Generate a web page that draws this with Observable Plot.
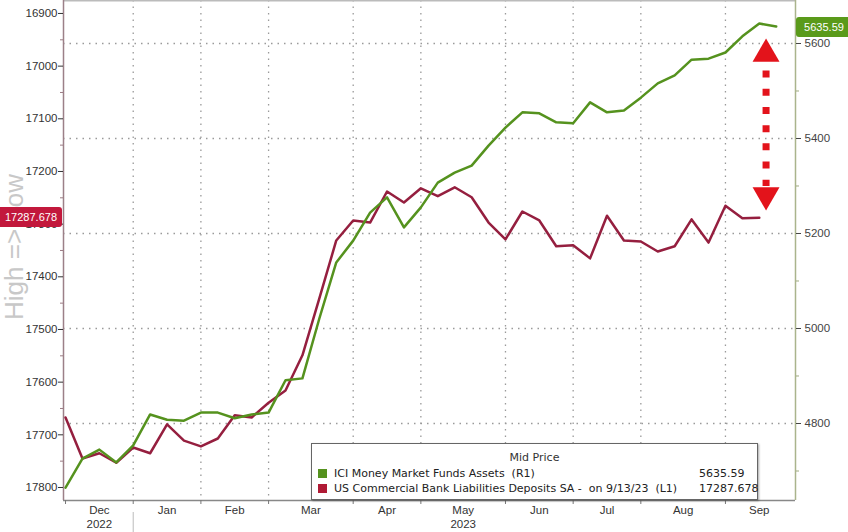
<!DOCTYPE html>
<html><head><meta charset="utf-8">
<script src="https://cdn.jsdelivr.net/npm/d3@7"></script>
<script src="https://cdn.jsdelivr.net/npm/@observablehq/plot@0.6"></script>
<style>
body{margin:0;background:#fff;font-family:"Liberation Sans",Arial,sans-serif;}
#wrap{position:relative;width:848px;height:532px;overflow:hidden;background:#fff;}
.flag{position:absolute;color:#fff;font-size:11px;height:20px;line-height:20px;text-align:center;white-space:nowrap;}
#legend{position:absolute;left:311px;top:443px;width:447px;height:57px;border:1.5px solid #666;background:#fff;box-sizing:border-box;font-family:"DejaVu Sans",sans-serif;font-size:11px;color:#222;box-shadow:1px 1px 2px rgba(0,0,0,0.35);}
#legend .title{position:absolute;left:0;right:0;top:7px;text-align:center;color:#333;}
#legend .row{position:absolute;left:6px;height:14px;line-height:14px;white-space:pre;}
#legend .sw{display:inline-block;width:9px;height:9px;margin-right:7px;vertical-align:-1px;}
#legend .val{position:absolute;left:387px;height:14px;line-height:14px;white-space:nowrap;}
#hl{position:absolute;left:14px;top:247px;transform:translate(-50%,-50%) rotate(-90deg);font-size:26px;color:#c8c8c8;white-space:nowrap;}
</style></head><body><div id="wrap"></div>
<script>
// ---- data ----
const monthLabels = ["Dec","Jan","Feb","Mar","Apr","May","Jun","Jul","Aug","Sep"];
const yearLabels  = ["2022","","","","","2023","","","",""];
const monthStarts = [0,4,8,12,17,21,26,30,34,39];   // week index of first obs in each month
const leftTicks  = [16900,17000,17100,17200,17300,17400,17500,17600,17700,17800];
const rightTicks = [4800,5000,5200,5400,5600];
const seriesNames = ["ICI Money Market Funds Assets  (R1)", "US Commercial Bank Liabilities Deposits SA -  on 9/13/23  (L1)"];
const lastValues = ["5635.59", "17287.678"];
// ICI Money Market Funds Assets (R1, $bn), weekly
const greenValues = [4665,4726,4745,4718,4754,4819,4808,4806,4823,4823,4811,4819,4823,4891,4895,
  5021,5139,5185,5244,5276,5213,5255,5307,5328,5343,5385,5423,5455,5453,5434,5432,5476,5455,5459,
  5486,5516,5533,5566,5568,5581,5615,5642,5635.59];
// US Commercial Bank Deposits SA (L1, $bn, inverted axis), weekly
const redValues = [17667,17745,17735,17753,17724,17735,17680,17711,17722,17707,17663,17667,17639,17616,
  17549,17441,17331,17293,17297,17238,17259,17232,17247,17230,17249,17297,17329,17276,17293,17342,
  17340,17365,17284,17331,17333,17352,17342,17291,17335,17265,17289,17287.678];

// ---- scales ----
const xDomain = [-0.12, 43.14];
const yDomain = [4637.9, 5690.5];
// left (inverted) axis mapped into right-axis units
const toRight = d3.scaleLinear().domain([16900, 17800]).range([5663.2, 4665.3]);
const leftMinor = leftTicks.slice(0,-1).map(d => d + 50);
const rightMinor = [4700,4900,5100,5300,5500];
const arrowAnno = {x: 41.4, headTop: 5578, headBottom: 5281, dashTop: 5543, dashBottom: 5300};

const months = monthLabels.map((m,i) => ({
  m, year: yearLabels[i],
  c: (monthStarts[i] + (i + 1 < monthStarts.length ? monthStarts[i+1] : 43)) / 2
}));

const GREEN = "#55921e", RED = "#951f3f", ARROW = "#e3131b";
const gridStyle = {stroke: "#9a9a9a", strokeOpacity: 1, strokeWidth: 1.3, strokeDasharray: "1.5,5"};

const chart = Plot.plot({
  width: 848, height: 532,
  marginLeft: 63, marginRight: 53, marginTop: 0, marginBottom: 32,
  style: {fontFamily: "Liberation Sans, Arial, sans-serif", fontSize: "11.5px", color: "#333", background: "#fff"},
  x: {domain: xDomain, label: null},
  y: {domain: yDomain, label: null},
  marks: [
    Plot.gridY(rightTicks, gridStyle),
    Plot.gridX(monthStarts.slice(1), gridStyle),
    Plot.ruleY([yDomain[1]], {stroke: "#bbb", strokeWidth: 2}),
    Plot.ruleY([yDomain[0]], {stroke: "#888", strokeWidth: 1.5}),
    Plot.ruleX([xDomain[0]], {stroke: "#9c8088", strokeWidth: 1.5}),
    Plot.ruleX([xDomain[1]], {stroke: "#aab48c", strokeWidth: 1.5}),
    Plot.axisY({anchor: "left", ticks: leftTicks.map(toRight), tickSize: 5, tickPadding: 1,
      tickFormat: d => String(Math.round(toRight.invert(d))), label: null, color: "#333"}),
    Plot.axisY({anchor: "left", ticks: leftMinor.map(toRight), tickSize: 3, tickFormat: () => "", label: null, color: "#9c7c84"}),
    Plot.axisY({anchor: "right", ticks: rightTicks, tickSize: 5, tickPadding: 4,
      tickFormat: d3.format("d"), label: null, color: "#444"}),
    Plot.axisY({anchor: "right", ticks: rightMinor, tickSize: 3, tickFormat: () => "", label: null, color: "#a0aa80"}),
    Plot.axisX({anchor: "bottom", ticks: monthStarts, tickSize: 4, tickFormat: () => "", label: null, color: "#777"}),
    Plot.axisX({anchor: "bottom", ticks: [4], tickSize: 20, dy: 12, tickFormat: () => "", label: null, color: "#bbb"}),
    Plot.text(months, {x: "c", text: d => d.year ? d.m + "\n" + d.year : d.m,
      frameAnchor: "bottom", lineAnchor: "top", dy: 3, lineHeight: 1.25, fill: "#333"}),
    Plot.lineY(redValues, {y: d => toRight(d), stroke: RED, strokeWidth: 2.5}),
    Plot.lineY(greenValues, {stroke: GREEN, strokeWidth: 2.5}),
    Plot.link([arrowAnno], {x1: "x", x2: "x", y1: "dashTop", y2: "dashBottom", stroke: ARROW,
      strokeWidth: 7, strokeDasharray: "7,11.2", strokeLinecap: "butt"}),
    Plot.dot([arrowAnno], {x: "x", y: "headTop", symbol: "triangle", r: 10, fill: ARROW, stroke: "none"}),
    Plot.dot([arrowAnno], {x: "x", y: "headBottom", symbol: "triangle", r: 10, fill: ARROW, stroke: "none", rotate: 180})
  ]
});

const wrap = document.getElementById("wrap");
wrap.appendChild(chart);
const ys = chart.scale("y");

const hl = document.createElement("div");
hl.id = "hl"; hl.textContent = "High => Low";
wrap.appendChild(hl);

const redY = ys.apply(toRight(redValues[redValues.length-1]));
const rf = document.createElement("div");
rf.className = "flag";
rf.style.cssText = `left:0;width:62px;top:${redY-10}px;background:#c2183c;border-radius:0 3px 3px 0;`;
rf.textContent = lastValues[1];
wrap.appendChild(rf);

const greenY = ys.apply(greenValues[greenValues.length-1]);
const gf = document.createElement("div");
gf.className = "flag";
gf.style.cssText = `left:796px;width:56px;top:${greenY-9}px;background:#5a9a1a;border-radius:3px 0 0 3px;`;
gf.textContent = lastValues[0];
wrap.appendChild(gf);

const lg = document.createElement("div");
lg.id = "legend";
lg.innerHTML = `<div class="title">Mid Price</div>
<div class="row" style="top:23px"><span class="sw" style="background:${GREEN}"></span>${seriesNames[0]}</div>
<div class="val" style="top:23px">${lastValues[0]}</div>
<div class="row" style="top:38px"><span class="sw" style="background:#b01a35"></span>${seriesNames[1]}</div>
<div class="val" style="top:38px">${lastValues[1]}</div>`;
wrap.appendChild(lg);
</script></body></html>
